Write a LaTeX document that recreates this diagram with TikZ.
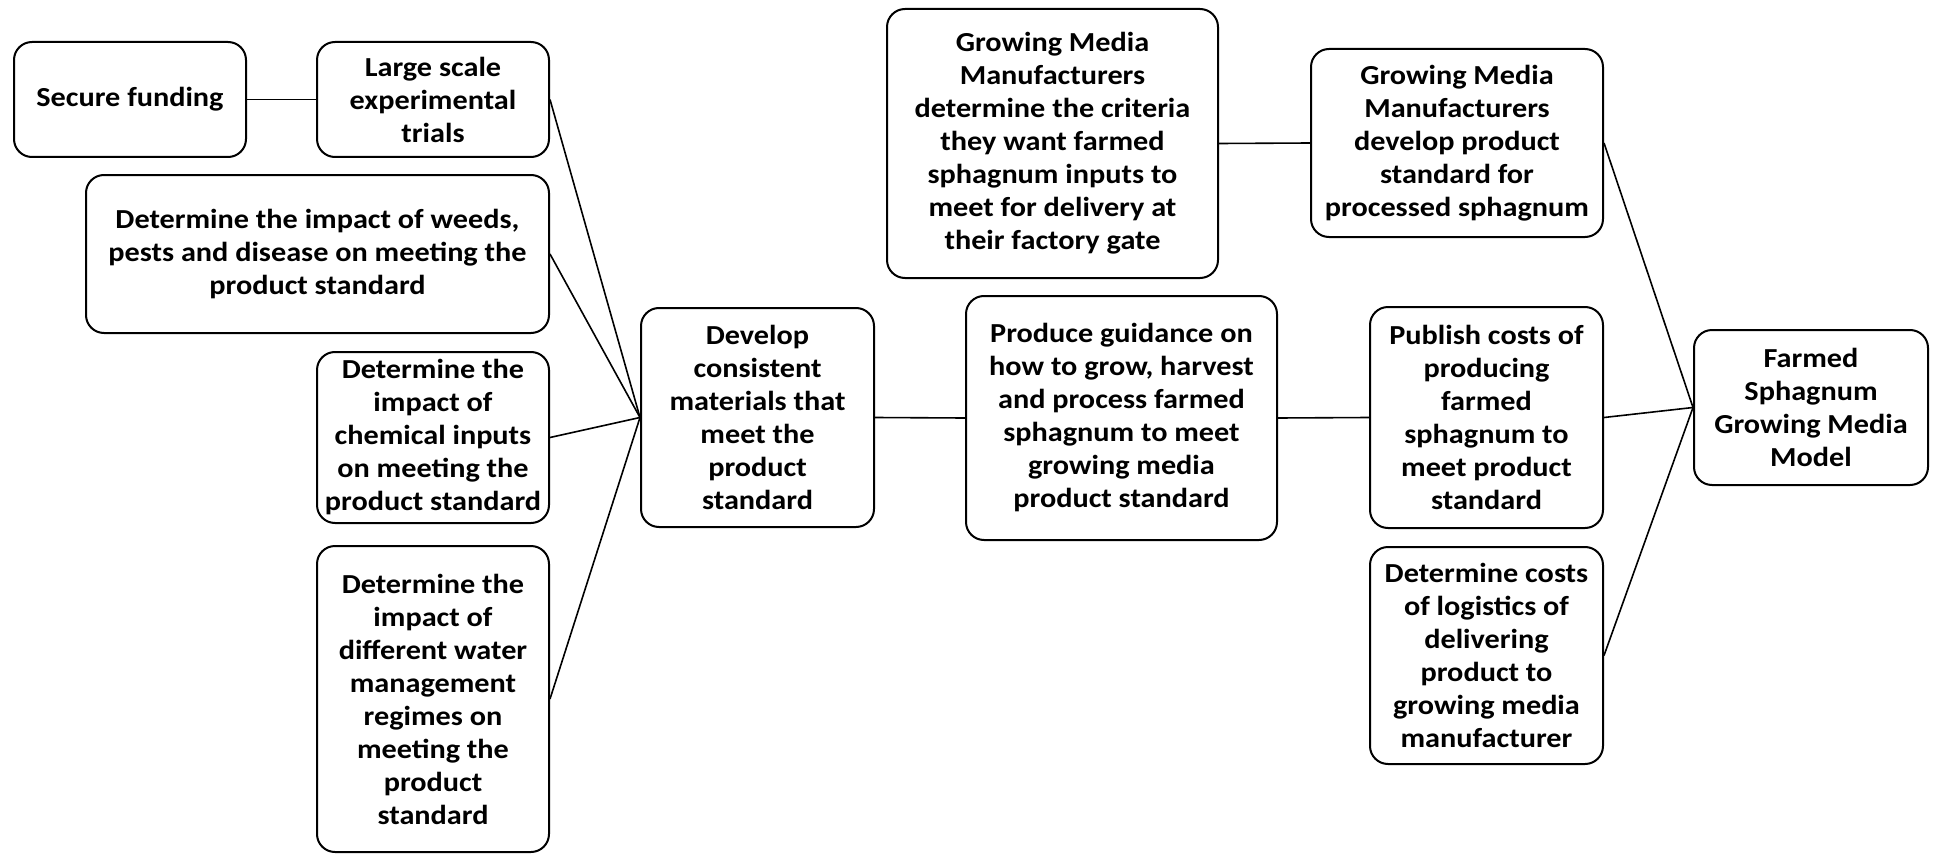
\documentclass[tikz,border=0pt]{standalone}
\usepackage{fontspec}
\setmainfont{Carlito}[FakeStretch=1.1]
\begin{document}
\begin{tikzpicture}[x=1pt,y=-1pt,
  box/.style={draw=black, line width=2pt, rounded corners=18pt, align=center,
    font=\fontsize{27.5}{33}\selectfont\bfseries, inner sep=0pt, anchor=center},
  link/.style={draw=black, line width=1.6pt}]
\useasboundingbox (0,0) rectangle (1933,856);
\node[box, minimum width=232, minimum height=115] (secure) at (130,99.5) {Secure funding};
\node[box, minimum width=232, minimum height=115] (large) at (433,99.5) {Large scale\\experimental\\trials};
\node[box, minimum width=463, minimum height=158] (weeds) at (317.5,254) {Determine the impact of weeds,\\pests and disease on meeting the\\product standard};
\node[box, minimum width=232, minimum height=171] (chem) at (433,437.5) {Determine the\\impact of\\chemical inputs\\on meeting the\\product standard};
\node[box, minimum width=232, minimum height=306] (water) at (433,699) {Determine the\\impact of\\different water\\management\\regimes on\\meeting the\\product\\standard};
\node[box, minimum width=233, minimum height=219] (develop) at (757.5,417.5) {Develop\\consistent\\materials that\\meet the\\product\\standard};
\node[box, minimum width=311, minimum height=244] (produce) at (1121.5,418) {Produce guidance on\\how to grow, harvest\\and process farmed\\sphagnum to meet\\growing media\\product standard};
\node[box, minimum width=331, minimum height=269] (gmmcrit) at (1052.5,143.5) {Growing Media\\Manufacturers\\determine the criteria\\they want farmed\\sphagnum inputs to\\meet for delivery at\\their factory gate};
\node[box, minimum width=292, minimum height=188] (gmmdev) at (1457,143) {Growing Media\\Manufacturers\\develop product\\standard for\\processed sphagnum};
\node[box, minimum width=233, minimum height=221] (publish) at (1486.5,417.5) {Publish costs of\\producing\\farmed\\sphagnum to\\meet product\\standard};
\node[box, minimum width=233, minimum height=217] (detcost) at (1486.5,655.5) {Determine costs\\of logistics of\\delivering\\product to\\growing media\\manufacturer};
\node[box, minimum width=234, minimum height=155] (farmed) at (1811,407.5) {Farmed\\Sphagnum\\Growing Media\\Model};
\draw[link] (secure.east) -- (large.west);
\draw[link] (large.east) -- (develop.west);
\draw[link] (weeds.east) -- (develop.west);
\draw[link] (chem.east) -- (develop.west);
\draw[link] (water.east) -- (develop.west);
\draw[link] (develop.east) -- (produce.west);
\draw[link] (produce.east) -- (publish.west);
\draw[link] (gmmcrit.east) -- (gmmdev.west);
\draw[link] (gmmdev.east) -- (farmed.west);
\draw[link] (publish.east) -- (farmed.west);
\draw[link] (detcost.east) -- (farmed.west);
\end{tikzpicture}
\end{document}
